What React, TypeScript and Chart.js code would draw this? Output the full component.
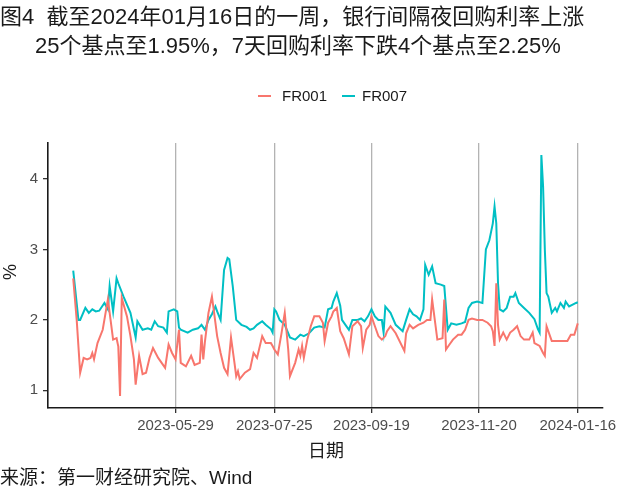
import React, { useEffect, useRef } from "react";
import { Chart, registerables } from "chart.js";

Chart.register(...registerables);

const seriesNames = ["FR001", "FR007"];
const seriesColors = ["#F8766D", "#00BFC4"];

const fr001Dates = [
  "2023-03-31","2023-04-02","2023-04-04","2023-04-06","2023-04-08","2023-04-10","2023-04-11","2023-04-12","2023-04-14","2023-04-17",
  "2023-04-19","2023-04-20","2023-04-22","2023-04-23","2023-04-25","2023-04-26","2023-04-27","2023-04-28","2023-05-01","2023-05-03",
  "2023-05-05","2023-05-06","2023-05-08","2023-05-10","2023-05-12","2023-05-14","2023-05-16","2023-05-19","2023-05-23","2023-05-25",
  "2023-05-27","2023-05-29","2023-05-31","2023-06-01","2023-06-04","2023-06-07","2023-06-09","2023-06-12","2023-06-13","2023-06-14",
  "2023-06-15","2023-06-17","2023-06-19","2023-06-20","2023-06-22","2023-06-24","2023-06-26","2023-06-28","2023-06-30","2023-07-02",
  "2023-07-03","2023-07-04","2023-07-05","2023-07-08","2023-07-11","2023-07-13","2023-07-15","2023-07-18","2023-07-20","2023-07-23",
  "2023-07-24","2023-07-25","2023-07-27","2023-07-29","2023-07-31","2023-08-02","2023-08-03","2023-08-06","2023-08-08","2023-08-09",
  "2023-08-10","2023-08-11","2023-08-13","2023-08-15","2023-08-17","2023-08-20","2023-08-22","2023-08-23","2023-08-25","2023-08-27",
  "2023-08-28","2023-08-30","2023-09-01","2023-09-03","2023-09-06","2023-09-08","2023-09-11","2023-09-13","2023-09-14","2023-09-16",
  "2023-09-18","2023-09-19","2023-09-21","2023-09-23","2023-09-25","2023-09-27","2023-09-28","2023-09-30","2023-10-03","2023-10-08",
  "2023-10-09","2023-10-11","2023-10-13","2023-10-16","2023-10-19","2023-10-21","2023-10-23","2023-10-24","2023-10-26","2023-10-27",
  "2023-10-30","2023-10-31","2023-11-01","2023-11-03","2023-11-05","2023-11-08","2023-11-10","2023-11-12","2023-11-14","2023-11-16",
  "2023-11-19","2023-11-22","2023-11-25","2023-11-27","2023-11-28","2023-11-29","2023-11-30","2023-12-01","2023-12-02","2023-12-03",
  "2023-12-04","2023-12-06","2023-12-08","2023-12-10","2023-12-12","2023-12-14","2023-12-16","2023-12-19","2023-12-21","2023-12-22",
  "2023-12-25","2023-12-27","2023-12-28","2023-12-29","2023-12-31","2024-01-01","2024-01-06","2024-01-10","2024-01-12","2024-01-14",
  "2024-01-16"
];
const fr001Values = [
  2.59,2.00,1.25,1.46,1.44,1.46,1.53,1.44,1.67,1.86,
  2.15,2.29,1.91,1.72,1.74,1.62,0.92,2.31,2.05,1.77,
  1.44,1.08,1.49,1.23,1.25,1.46,1.60,1.46,1.32,1.65,
  1.53,1.44,1.86,1.39,1.34,1.49,1.36,1.39,1.79,1.44,
  1.70,2.10,2.33,2.15,1.77,1.53,1.32,1.23,1.75,1.39,
  1.20,1.27,1.16,1.25,1.30,1.53,1.46,1.77,1.67,1.67,
  1.63,1.58,1.51,1.79,2.10,1.58,1.20,1.39,1.58,1.49,
  1.63,1.46,1.72,1.91,2.05,2.05,1.96,1.70,1.96,2.05,
  2.12,2.17,1.84,1.74,1.51,1.91,1.98,1.91,1.60,1.86,
  1.93,2.05,1.91,1.77,1.72,1.77,1.84,1.91,1.81,1.56,
  1.81,1.93,1.88,1.93,1.96,2.00,2.00,2.29,1.91,1.72,
  1.74,2.29,1.58,1.65,1.72,1.79,1.79,1.86,2.00,2.02,
  2.00,2.00,1.96,1.91,1.84,1.63,2.52,1.93,1.72,1.77,
  1.82,1.72,1.82,1.86,1.91,1.77,1.72,1.72,1.82,1.67,
  1.63,1.53,1.49,1.91,1.77,1.70,1.70,1.70,1.79,1.79,
  1.95
];

const fr007Dates = [
  "2023-03-31","2023-04-03","2023-04-04","2023-04-07","2023-04-09","2023-04-11","2023-04-13","2023-04-15","2023-04-18","2023-04-20",
  "2023-04-21","2023-04-23","2023-04-25","2023-04-26","2023-04-29","2023-05-03","2023-05-06","2023-05-07","2023-05-10","2023-05-13",
  "2023-05-15","2023-05-17","2023-05-19","2023-05-22","2023-05-24","2023-05-25","2023-05-28","2023-05-30","2023-05-31","2023-06-01",
  "2023-06-05","2023-06-08","2023-06-11","2023-06-13","2023-06-15","2023-06-17","2023-06-19","2023-06-21","2023-06-22","2023-06-24",
  "2023-06-26","2023-06-28","2023-06-29","2023-07-01","2023-07-03","2023-07-06","2023-07-09","2023-07-11","2023-07-13","2023-07-15",
  "2023-07-18","2023-07-20","2023-07-23","2023-07-24","2023-07-25","2023-07-26","2023-07-28","2023-07-31","2023-08-03","2023-08-06",
  "2023-08-09","2023-08-11","2023-08-14","2023-08-17","2023-08-20","2023-08-23","2023-08-25","2023-08-27","2023-08-28","2023-08-30",
  "2023-09-01","2023-09-02","2023-09-04","2023-09-06","2023-09-08","2023-09-11","2023-09-13","2023-09-15","2023-09-17","2023-09-19",
  "2023-09-21","2023-09-23","2023-09-25","2023-09-26","2023-09-27","2023-09-30","2023-10-03","2023-10-07","2023-10-09","2023-10-11",
  "2023-10-13","2023-10-15","2023-10-17","2023-10-19","2023-10-20","2023-10-22","2023-10-24","2023-10-26","2023-10-29","2023-10-31",
  "2023-11-02","2023-11-04","2023-11-07","2023-11-10","2023-11-12","2023-11-14","2023-11-16","2023-11-19","2023-11-22","2023-11-24",
  "2023-11-26","2023-11-27","2023-11-28","2023-11-29","2023-11-30","2023-12-01","2023-12-02","2023-12-04","2023-12-06","2023-12-08",
  "2023-12-10","2023-12-11","2023-12-13","2023-12-16","2023-12-19","2023-12-22","2023-12-24","2023-12-25","2023-12-26","2023-12-27",
  "2023-12-28","2023-12-29","2023-12-30","2024-01-01","2024-01-03","2024-01-04","2024-01-06","2024-01-08","2024-01-09","2024-01-11",
  "2024-01-15","2024-01-16"
];
const fr007Values = [
  2.70,2.00,2.00,2.17,2.10,2.15,2.12,2.13,2.24,2.15,
  2.48,2.12,2.59,2.52,2.33,2.10,1.75,1.98,1.86,1.88,
  1.86,1.98,1.91,1.89,1.82,2.12,2.15,2.12,1.89,1.86,
  1.82,1.86,1.88,1.93,1.86,2.00,2.08,2.19,2.12,2.00,
  2.71,2.88,2.86,2.48,2.00,1.93,1.90,1.86,1.88,1.93,
  1.98,1.93,1.87,1.82,2.15,2.12,2.00,1.93,1.75,1.72,
  1.79,1.77,1.81,1.89,1.91,1.89,2.15,2.17,2.26,2.38,
  2.20,2.00,1.93,1.86,2.00,2.00,2.02,1.98,2.05,2.15,
  2.05,2.00,2.00,1.82,2.19,2.10,1.93,1.84,2.00,2.15,
  2.08,2.05,2.00,2.15,2.78,2.64,2.76,2.52,2.50,2.48,
  1.86,1.95,1.93,1.95,1.97,2.17,2.24,2.26,2.24,3.00,
  3.13,3.25,3.37,3.61,3.37,2.52,2.15,2.12,2.17,2.33,
  2.33,2.38,2.24,2.17,2.10,2.01,1.87,1.82,4.34,3.89,
  3.00,2.38,2.33,2.10,2.17,2.12,2.24,2.17,2.26,2.19,
  2.24,2.25
];

const xTickDates = ["2023-05-29", "2023-07-25", "2023-09-19", "2023-11-20", "2024-01-16"];
const yTickValues = [1, 2, 3, 4];

const titleLine1 = "图4\u00a0\u00a0截至2024年01月16日的一周，银行间隔夜回购利率上涨";
const titleLine2 = "25个基点至1.95%，7天回购利率下跌4个基点至2.25%";
const xTitle = "日期";
const yTitle = "%";
const sourceText = "来源：第一财经研究院、Wind";

const DAY = 86400000;
const toDay = (s: string) => {
  const [y, m, d] = s.split("-").map(Number);
  return Date.UTC(y, m - 1, d) / DAY;
};
const fmtDay = (v: number) => new Date(Math.round(v) * DAY).toISOString().slice(0, 10);

const FONT = '"Liberation Sans", "Noto Sans CJK SC", Arial, sans-serif';

export default function App() {
  const canvasRef = useRef<HTMLCanvasElement | null>(null);

  useEffect(() => {
    document.body.style.margin = "0";
    const canvas = canvasRef.current;
    if (!canvas) return;

    const pts = (dates: string[], vals: number[]) =>
      dates.map((d, i) => ({ x: toDay(d), y: vals[i] }));

    const allX = [...fr001Dates, ...fr007Dates].map(toDay);
    const allY = [...fr001Values, ...fr007Values];
    const xMin = Math.min(...allX);
    const xMax = Math.max(...allX);
    const yMin = Math.min(...allY);
    const yMax = Math.max(...allY);
    const xPad = (xMax - xMin) * 0.05;
    const yPad = (yMax - yMin) * 0.05;

    const chart = new Chart(canvas, {
      type: "line",
      data: {
        datasets: [
          {
            label: seriesNames[0],
            data: pts(fr001Dates, fr001Values),
            borderColor: seriesColors[0],
            backgroundColor: seriesColors[0],
            borderWidth: 2,
            pointRadius: 0,
            tension: 0,
          },
          {
            label: seriesNames[1],
            data: pts(fr007Dates, fr007Values),
            borderColor: seriesColors[1],
            backgroundColor: seriesColors[1],
            borderWidth: 2,
            pointRadius: 0,
            tension: 0,
          },
        ],
      },
      options: {
        responsive: false,
        animation: false,
        devicePixelRatio: 1,
        layout: { padding: { left: 0, right: 37, top: 143, bottom: 0 } },
        plugins: {
          legend: { display: false },
          tooltip: { enabled: false },
          title: { display: false },
        },
        scales: {
          x: {
            type: "linear",
            min: xMin - xPad,
            max: xMax + xPad,
            afterFit: (scale: any) => {
              scale.height = 90;
            },
            afterBuildTicks: (scale: any) => {
              scale.ticks = xTickDates.map((d) => ({ value: toDay(d) }));
            },
            ticks: {
              callback: (v: any) => fmtDay(Number(v)),
              color: "#4d4d4d",
              font: { family: FONT, size: 15 },
              padding: 4,
              maxRotation: 0,
              autoSkip: false,
            },
            grid: {
              display: true,
              drawOnChartArea: true,
              color: "#b3b3b3",
              lineWidth: 1.3,
              tickColor: "#333333",
              tickLength: 5,
            },
            border: { display: true, color: "#1a1a1a", width: 1.6 },
          },
          y: {
            type: "linear",
            min: yMin - yPad,
            max: yMax + yPad,
            afterFit: (scale: any) => {
              scale.width = 48;
            },
            afterBuildTicks: (scale: any) => {
              scale.ticks = yTickValues.map((v) => ({ value: v }));
            },
            ticks: {
              color: "#4d4d4d",
              font: { family: FONT, size: 15 },
              padding: 5,
              callback: (v: any) => String(v),
            },
            grid: {
              display: true,
              drawOnChartArea: false,
              tickColor: "#333333",
              tickLength: 5,
              lineWidth: 1.3,
            },
            border: { display: true, color: "#1a1a1a", width: 1.6 },
          },
        },
      },
    });

    return () => chart.destroy();
  }, []);

  const textBase: React.CSSProperties = {
    position: "absolute",
    fontFamily: FONT,
    whiteSpace: "nowrap",
    color: "#1a1a1a",
  };

  return (
    <div style={{ position: "relative", width: 640, height: 498, background: "#ffffff", overflow: "hidden" }}>
      <canvas
        ref={canvasRef}
        width={640}
        height={498}
        style={{ position: "absolute", left: 0, top: 0, width: 640, height: 498 }}
      />
      <div style={{ ...textBase, left: 0, top: 6, fontSize: 22, lineHeight: "22px" }}>{titleLine1}</div>
      <div style={{ ...textBase, left: 35, top: 35, fontSize: 22, lineHeight: "22px" }}>{titleLine2}</div>

      <div style={{ position: "absolute", left: 258, top: 95, width: 13, height: 2, background: seriesColors[0] }} />
      <div style={{ ...textBase, left: 282, top: 88, fontSize: 15, lineHeight: "16px" }}>{seriesNames[0]}</div>
      <div style={{ position: "absolute", left: 342, top: 95, width: 13, height: 2, background: seriesColors[1] }} />
      <div style={{ ...textBase, left: 362, top: 88, fontSize: 15, lineHeight: "16px" }}>{seriesNames[1]}</div>

      <div
        style={{
          ...textBase,
          left: 10,
          top: 272,
          fontSize: 18,
          lineHeight: "18px",
          transform: "translate(-50%, -50%) rotate(-90deg)",
        }}
      >
        {yTitle}
      </div>
      <div style={{ ...textBase, left: 326, top: 451, fontSize: 18, lineHeight: "18px", transform: "translate(-50%, -50%)" }}>
        {xTitle}
      </div>
      <div style={{ ...textBase, left: 0, top: 468, fontSize: 19, lineHeight: "20px" }}>{sourceText}</div>
    </div>
  );
}
